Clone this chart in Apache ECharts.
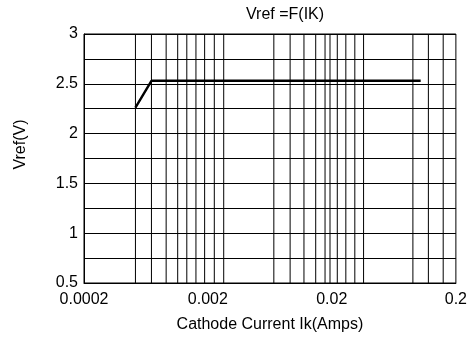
<!DOCTYPE html>
<html><head><meta charset="utf-8">
<script src="https://cdn.jsdelivr.net/npm/echarts@6/dist/echarts.min.js"></script>
<style>html,body{margin:0;padding:0;background:#fff}#c{width:470px;height:338px}</style>
</head><body><div id="c"></div>
<script>
// Curve points: cathode current (A) and reference voltage (V)
var currentA = [0.00052, 0.0007, 0.104];
var vrefV = [2.26, 2.53, 2.53];
// Vertical grid lines drawn in the reference (A)
var gridX = [0.00052, 0.0007, 0.00092, 0.00114, 0.00135, 0.0016, 0.00188, 0.00225, 0.00268,
             0.0068, 0.0092, 0.0119, 0.0148, 0.0176, 0.0193, 0.0221, 0.0259, 0.0306, 0.036,
             0.09, 0.12, 0.158];
var xMin = 0.0002, xMax = 0.2;
var yMin = 0.5, yMax = 3, yStep = 0.5;
var titleText = 'Vref =F(IK)';
var xName = 'Cathode Current Ik(Amps)';
var yName = 'Vref(V)';

var font = 'Arial, "Liberation Sans", sans-serif';
var gridSeries = gridX.map(function (x) {
  return {
    type: 'line', data: [[x, yMin], [x, yMax]], symbol: 'none', silent: true,
    lineStyle: {color: '#000', width: 1}, z: 1
  };
});
var chart = echarts.init(document.getElementById('c'), null, {renderer: 'canvas'});
chart.setOption({
  animation: false,
  backgroundColor: '#fff',
  title: {text: titleText, left: 241, top: 2,
    textStyle: {fontFamily: font, fontSize: 16, fontWeight: 'normal', color: '#000'}},
  grid: {left: 84, right: 14, top: 34, bottom: 54, show: true, borderColor: '#000', borderWidth: 1},
  xAxis: {
    type: 'log', logBase: 10, min: xMin, max: xMax, interval: 1,
    name: xName, nameLocation: 'middle', nameGap: 34,
    nameTextStyle: {fontFamily: font, fontSize: 16, color: '#000'},
    axisLine: {show: true, lineStyle: {color: '#000', width: 1}},
    axisTick: {show: false},
    splitLine: {show: false},
    axisLabel: {fontFamily: font, fontSize: 16, color: '#000', margin: 9,
      showMinLabel: true, showMaxLabel: true,
      formatter: function (v) { return String(parseFloat(v.toPrecision(3))); }}
  },
  yAxis: {
    type: 'value', min: yMin, max: yMax, interval: yStep,
    name: yName, nameLocation: 'middle', nameGap: 55, nameRotate: 90,
    nameTextStyle: {fontFamily: font, fontSize: 16, color: '#000', padding: [0, 0, 0, 28]},
    axisLine: {show: true, lineStyle: {color: '#000', width: 1}},
    axisTick: {show: false},
    minorTick: {show: false, splitNumber: 2},
    splitLine: {show: true, lineStyle: {color: '#000', width: 1}},
    minorSplitLine: {show: true, lineStyle: {color: '#000', width: 1}},
    axisLabel: {fontFamily: font, fontSize: 16, color: '#000', margin: 6}
  },
  series: gridSeries.concat([{
    type: 'line',
    data: currentA.map(function (x, i) { return [x, vrefV[i]]; }),
    symbol: 'none',
    lineStyle: {color: '#000', width: 2.4},
    z: 5
  }])
});
</script></body></html>
